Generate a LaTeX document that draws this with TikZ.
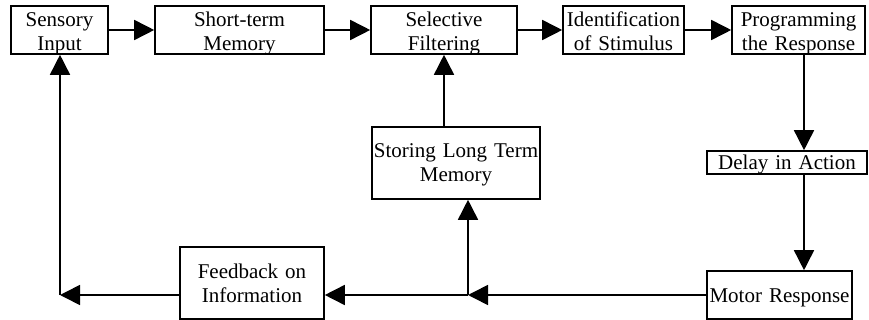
\documentclass[tikz,border=0pt]{standalone}
\usepackage{fontspec}
\setmainfont{Liberation Serif}
\usetikzlibrary{arrows.meta}
\begin{document}
\begin{tikzpicture}[x=1pt,y=-1pt,
  box/.style={draw,line width=1.6pt,inner sep=0pt,align=center,
    font=\fontsize{21}{24}\selectfont},
  arr/.style={line width=1.6pt,-{Triangle[length=20pt,width=20pt]}},
  ln/.style={line width=1.6pt}]
\useasboundingbox (0,0) rectangle (869,320);
% top row (y 6..54)
\node[box,minimum width=97pt,text width=97pt,text height=21pt,text depth=27pt] (SI) at (59.5,30) {Sensory\\Input};
\node[box,minimum width=169pt,text width=169pt,text height=21pt,text depth=27pt] (STM) at (239.5,30) {Short-term\\Memory};
\node[box,minimum width=146pt,text width=146pt,text height=21pt,text depth=27pt] (SF) at (444,30) {Selective\\Filtering};
\node[box,minimum width=121pt,text width=121pt,text height=21pt,text depth=27pt] (ID) at (623.5,30) {Identification\\of Stimulus};
\node[box,minimum width=133pt,text width=133pt,text height=21pt,text depth=27pt] (PR) at (798.5,30) {Programming\\the Response};
% middle
\node[box,minimum width=168pt,text width=168pt,text height=31pt,text depth=41pt] (ST) at (456,163) {Storing Long Term\\Memory};
\node[box,minimum width=160pt,text width=160pt,text height=19pt,text depth=4pt] (DL) at (787,162.5) {Delay in Action};
% bottom
\node[box,minimum width=145pt,text width=145pt,text height=31pt,text depth=17pt] (MR) at (779.5,295) {Motor Response};
\node[box,minimum width=144pt,text width=144pt,text height=31pt,text depth=41pt] (FB) at (252,283) {Feedback on\\Information};
% helper coordinates
\coordinate (vx) at (804,0);
\coordinate (J) at (468,295);
\coordinate (C) at (60,295);
% top row arrows
\draw[arr] (SI.east) -- (STM.west);
\draw[arr] (STM.east) -- (SF.west);
\draw[arr] (SF.east) -- (ID.west);
\draw[arr] (ID.east) -- (PR.west);
% right column
\draw[arr] (PR.south -| vx) -- (DL.north -| vx);
\draw[arr] (DL.south -| vx) -- (MR.north -| vx);
% bottom feedback
\draw[arr] (MR.west) -- (J);
\draw[arr] (J) -- (J |- ST.south);
\draw[arr] (J) -- (FB.east |- J);
\draw[arr] (FB.west |- J) -- (C);
\draw[arr] (C) -- (C |- SI.south);
\draw[arr] (ST.north -| SF.south) -- (SF.south);
\end{tikzpicture}
\end{document}
